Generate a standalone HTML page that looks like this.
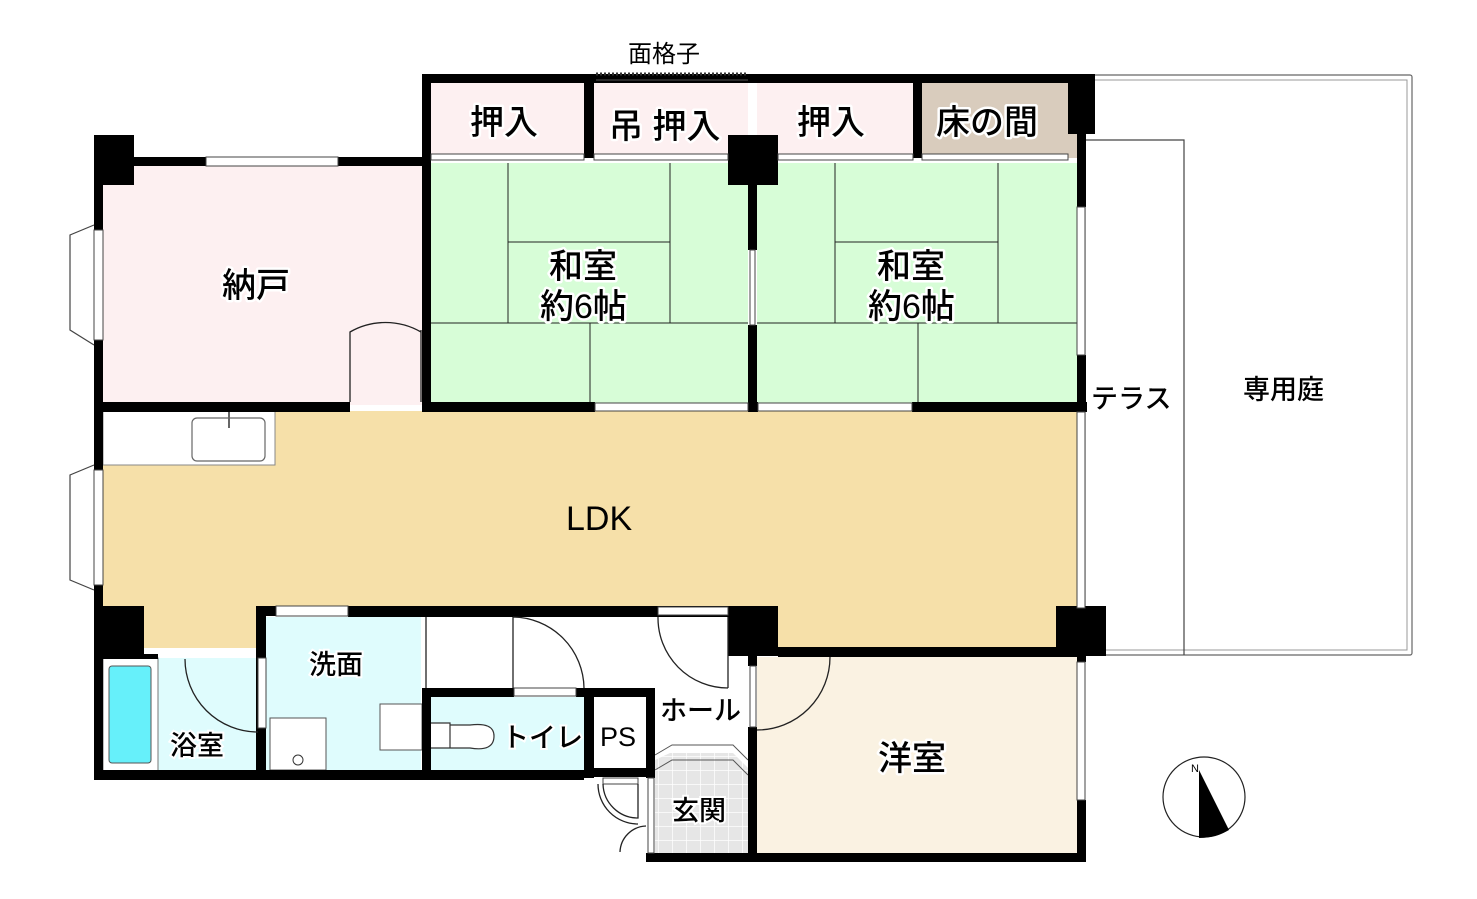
<!DOCTYPE html>
<html><head><meta charset="utf-8">
<style>
html,body{margin:0;padding:0;background:#fff;}
svg{display:block;}
text{font-family:"Liberation Sans","Noto Sans CJK JP",sans-serif;fill:#000;}
.lbl{font-size:34px;font-weight:500;paint-order:stroke;stroke:#fff;stroke-width:5px;stroke-linejoin:round;}
.sm{font-size:27px;font-weight:500;paint-order:stroke;stroke:#fff;stroke-width:4px;}
</style></head><body>
<svg width="1477" height="899" viewBox="0 0 1477 899" xmlns="http://www.w3.org/2000/svg">
<defs>
<pattern id="tile" width="14" height="14" patternUnits="userSpaceOnUse">
<rect width="14" height="14" fill="#e6e6e6"/><path d="M0 0H14M0 0V14" stroke="#fff" stroke-width="1.5"/>
</pattern>
</defs>
<rect x="1085" y="75" width="327" height="580" fill="none" stroke="#666" stroke-width="1.2" rx="2"/>
<rect x="1085" y="80" width="322" height="570" fill="none" stroke="#999" stroke-width="1"/>
<path d="M1085 140H1184V655" fill="none" stroke="#444" stroke-width="1.2"/>

<rect x="103" y="163" width="320" height="242" fill="#fdf0f1"/>
<rect x="430" y="83" width="155" height="75" fill="#fdf0f1"/>
<rect x="594" y="83" width="154" height="75" fill="#fdf0f1"/>
<rect x="757" y="83" width="157" height="75" fill="#fdf0f1"/>
<rect x="922" y="83" width="155" height="75" fill="#d9ccbd"/>
<rect x="430" y="163" width="318" height="242" fill="#d7fdd7"/>
<rect x="757" y="163" width="321" height="242" fill="#d7fdd7"/>
<path d="M103 411H1078V648H778V606H266V648H143V606H103Z" fill="#f6e0a9"/>
<rect x="103" y="411" width="172" height="54" fill="#fff" stroke="#888" stroke-width="1"/>
<rect x="192" y="418" width="73" height="43" rx="5" fill="#fff" stroke="#666" stroke-width="1.2"/>
<line x1="229" y1="411" x2="229" y2="428" stroke="#666" stroke-width="2"/>
<rect x="757" y="657" width="321" height="197" fill="#faf2e2"/>
<rect x="158" y="658" width="100" height="113" fill="#dffcfd"/>
<rect x="266" y="617" width="155" height="154" fill="#dffcfd"/>
<rect x="430" y="697" width="154" height="73" fill="#dffcfd"/>
<path d="M655 760L670 753H733L748 768V853H655Z" fill="url(#tile)"/>
<path d="M655 755L672 745H733L748 760" fill="none" stroke="#555" stroke-width="1"/>
<path d="M655 770L672 760H733L748 775" fill="none" stroke="#555" stroke-width="1"/>

<g stroke="#222" stroke-width="1" fill="none">
<path d="M508 163V323M508 242H670M670 163V323M430 323H748M590 323V405"/>
<path d="M835 163V323M835 242H998M998 163V323M757 323H1078M918 323V405"/>
</g>

<rect x="103" y="658" width="55" height="113" fill="#fff" stroke="#777"/>
<rect x="109" y="666" width="42" height="97" rx="3" fill="#66f0fa" stroke="#555"/>
<rect x="270" y="718" width="56" height="52" fill="#fff" stroke="#555"/>
<circle cx="298" cy="760" r="5" fill="none" stroke="#333"/>
<rect x="380" y="704" width="42" height="46" fill="#fff" stroke="#555"/>
<path d="M430 723H450V748H430M450 725H470Q494 722 494 736Q494 752 470 748H450" fill="#fff" stroke="#333" stroke-width="1.2"/>

<g fill="#000">
<rect x="422" y="74" width="663" height="9"/>
<rect x="422" y="74" width="9" height="338"/>
<rect x="584" y="83" width="10" height="75"/>
<rect x="913" y="83" width="9" height="75"/>
<rect x="1068" y="74" width="27" height="60"/>
<rect x="728" y="135" width="50" height="50"/>
<rect x="748" y="160" width="9" height="90"/>
<rect x="748" y="325" width="9" height="85"/>
<rect x="94" y="135" width="40" height="50"/>
<rect x="94" y="157" width="112" height="9"/>
<rect x="338" y="157" width="90" height="9"/>
<rect x="94" y="160" width="9" height="70"/>
<rect x="94" y="340" width="9" height="130"/>
<rect x="94" y="585" width="9" height="195"/>
<rect x="94" y="402" width="256" height="10"/>
<rect x="422" y="402" width="173" height="10"/>
<rect x="748" y="402" width="10" height="10"/>
<rect x="912" y="402" width="175" height="10"/>
<rect x="1077" y="74" width="9" height="133"/>
<rect x="1077" y="355" width="9" height="57"/>
<rect x="94" y="606" width="50" height="48"/>
<rect x="256" y="606" width="10" height="174"/>
<rect x="256" y="606" width="20" height="10"/>
<rect x="348" y="606" width="390" height="11"/>
<rect x="728" y="606" width="50" height="50"/>
<rect x="778" y="647" width="300" height="10"/>
<rect x="1056" y="606" width="50" height="50"/>
<rect x="1077" y="650" width="9" height="12"/>
<rect x="1077" y="800" width="9" height="62"/>
<rect x="94" y="770" width="490" height="10"/>
<rect x="103" y="654" width="55" height="5"/>
<rect x="422" y="688" width="9" height="92"/>
<rect x="422" y="688" width="92" height="9"/>
<rect x="576" y="688" width="79" height="9"/>
<rect x="584" y="688" width="10" height="90"/>
<rect x="646" y="688" width="9" height="90"/>
<rect x="584" y="768" width="71" height="9"/>
<rect x="748" y="656" width="9" height="10"/>
<rect x="748" y="727" width="9" height="135"/>
<rect x="646" y="853" width="440" height="9"/>
</g>
<g fill="#fff" stroke="#444" stroke-width="1">
<rect x="206" y="157" width="132" height="9"/>
<rect x="431" y="154" width="153" height="6"/>
<rect x="594" y="154" width="134" height="6"/>
<rect x="778" y="154" width="135" height="6"/>
<rect x="922" y="154" width="146" height="6"/>
<rect x="595" y="403" width="153" height="8"/>
<rect x="758" y="403" width="154" height="8"/>
<rect x="750" y="250" width="5" height="75"/>
<rect x="1077" y="207" width="8" height="148"/>
<rect x="1077" y="412" width="8" height="196"/>
<rect x="1077" y="662" width="8" height="138"/>
<rect x="94" y="230" width="9" height="110"/>
<rect x="94" y="470" width="9" height="115"/>
<rect x="276" y="606" width="72" height="10"/>
<rect x="658" y="607" width="70" height="8"/>
<rect x="514" y="688" width="62" height="8"/>
<rect x="258" y="658" width="8" height="70"/>
<rect x="750" y="666" width="6" height="61"/>
<rect x="648" y="778" width="6" height="75"/>
<rect x="603" y="778" width="35" height="6"/>
</g>
<path d="M94 225L70 235V330L94 345M94 465L70 475V580L94 590" fill="none" stroke="#444" stroke-width="1.2"/>
<path d="M596 74H748" stroke="#333" stroke-width="3" stroke-dasharray="2 2"/>
<path d="M596 80H748" stroke="#555" stroke-width="1"/>
<g fill="none" stroke="#222" stroke-width="1.3">
<path d="M350 402V332A71 71 0 0 1 421 332M421 330V402"/>
<path d="M185 659A73 73 0 0 0 258 732"/>
<path d="M426 617V688M513 617V688M513 617A72 72 0 0 1 584 688"/>
<path d="M658 617A70 70 0 0 0 728 688M728 617V688"/>
<path d="M757 730A73 73 0 0 0 830 657"/>
<path d="M603 784A35 35 0 0 0 638 818V784M598 784A40 40 0 0 0 638 824"/>
<path d="M620 852A27 27 0 0 1 646 826"/>
</g>

<ellipse cx="1204" cy="797" rx="41" ry="40" fill="#fff" stroke="#222" stroke-width="1.2"/>
<path d="M1199 770L1229 830Q1215 838 1199 838Z" fill="#000"/>
<text x="1191" y="772" font-size="11" font-family="Liberation Serif">N</text>

<text class="lbl" x="222" y="297">納戸</text>
<text class="lbl" x="470" y="134">押入</text>
<text class="lbl" x="609" y="138">吊 押入</text>
<text class="lbl" x="797" y="134">押入</text>
<text class="lbl" x="936" y="134">床の間</text>
<text class="lbl" x="549" y="278">和室</text>
<text class="lbl" x="540" y="318">約6帖</text>
<text class="lbl" x="877" y="278">和室</text>
<text class="lbl" x="868" y="318">約6帖</text>
<text x="566" y="530" font-size="34">LDK</text>
<text class="sm" x="1091" y="408" font-size="28">テラス</text>
<text class="sm" x="1243" y="399" font-size="30">専用庭</text>
<text class="sm" x="309" y="674">洗面</text>
<text class="sm" x="170" y="755">浴室</text>
<text class="sm" x="502" y="747" font-size="25">トイレ</text>
<text class="sm" x="600" y="746">PS</text>
<text class="sm" x="660" y="720" font-size="25">ホール</text>
<text class="sm" x="672" y="820">玄関</text>
<text class="lbl" x="878" y="770">洋室</text>
<text x="628" y="62" font-size="24">面格子</text>
</svg>
</body></html>
